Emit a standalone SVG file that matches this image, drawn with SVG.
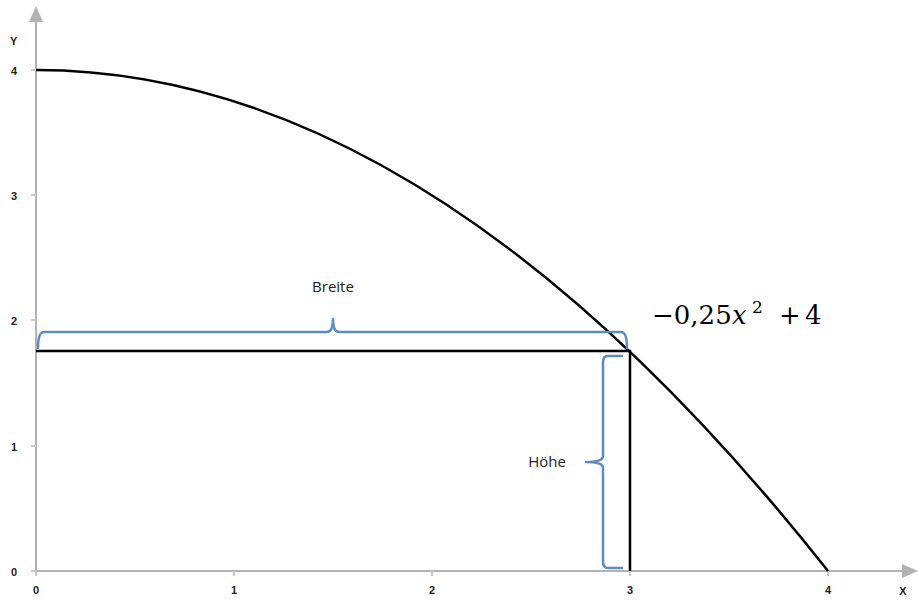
<svg xmlns="http://www.w3.org/2000/svg" width="918" height="600" viewBox="0 0 918 600">
<style>
.axis{stroke:#b3b3b3;stroke-width:2;fill:none}
.tick{stroke:#c8c8c8;stroke-width:2}
.lbl{font-family:"Liberation Sans",Arial,sans-serif;font-size:11px;fill:#222;font-weight:bold}
.brace{stroke:#5b8dc4;stroke-width:2.5;fill:none;stroke-linecap:round;stroke-linejoin:round}
.blk{stroke:#000;stroke-width:2.5;fill:none}
.txt{font-family:"Open Sans","Liberation Sans",sans-serif;font-size:15px;fill:#222}
</style>
<rect width="918" height="600" fill="#fff"/>
<g id="axes">
<line class="axis" x1="36" y1="571" x2="36" y2="20"/>
<polygon points="36,6 29,22 43,22" fill="#b3b3b3"/>
<line class="axis" x1="36" y1="571" x2="904" y2="571"/>
<polygon points="918,571 902,564 902,578" fill="#b3b3b3"/>
<line class="tick" x1="31" y1="70" x2="36" y2="70"/>
<line class="tick" x1="31" y1="195" x2="36" y2="195"/>
<line class="tick" x1="31" y1="320" x2="36" y2="320"/>
<line class="tick" x1="31" y1="446" x2="36" y2="446"/>
<line class="tick" x1="31" y1="571" x2="36" y2="571"/>
<line class="tick" x1="36" y1="571" x2="36" y2="576"/>
<line class="tick" x1="234" y1="571" x2="234" y2="576"/>
<line class="tick" x1="432" y1="571" x2="432" y2="576"/>
<line class="tick" x1="630" y1="571" x2="630" y2="576"/>
<line class="tick" x1="828" y1="571" x2="828" y2="576"/>
<text class="lbl" x="10" y="45">Y</text>
<text class="lbl" x="11" y="75">4</text>
<text class="lbl" x="11" y="200">3</text>
<text class="lbl" x="11" y="325">2</text>
<text class="lbl" x="11" y="451">1</text>
<text class="lbl" x="11" y="576">0</text>
<text class="lbl" x="36" y="594" text-anchor="middle">0</text>
<text class="lbl" x="234" y="594" text-anchor="middle">1</text>
<text class="lbl" x="432" y="594" text-anchor="middle">2</text>
<text class="lbl" x="630" y="594" text-anchor="middle">3</text>
<text class="lbl" x="828" y="594" text-anchor="middle">4</text>
<text class="lbl" x="903" y="595" text-anchor="middle">X</text>
</g>
<g id="curve">
<path class="blk" d="M36,70 Q432,70 828,571"/>
</g>
<g id="rect">
<line class="blk" x1="36" y1="351" x2="631" y2="351"/>
<line class="blk" x1="630" y1="350" x2="630" y2="571"/>
</g>
<g id="breite">
<path class="brace" d="M38,348 Q38,332 44,332 L327,332 Q333,332 333,319 Q333,332 339,332 L621,332 Q627,332 627,348"/>
<text class="txt" x="333" y="292" text-anchor="middle">Breite</text>
</g>
<g id="hoehe">
<path class="brace" d="M622,356 L608,356 Q603,356 603,362 L603,456 Q603,462 586,462 Q603,462 603,468 L603,562 Q603,568 608,568 L622,568"/>
<text class="txt" x="566" y="467" text-anchor="end">Höhe</text>
</g>
<g id="formula">
<text x="652" y="324" font-family="'DejaVu Serif','Liberation Serif',serif" font-size="26" fill="#000">−0,25<tspan font-style="italic" x="732">x</tspan><tspan font-size="17" x="752" dy="-11">2</tspan><tspan dy="11" x="779">+</tspan><tspan x="805">4</tspan></text>
</g>
</svg>
